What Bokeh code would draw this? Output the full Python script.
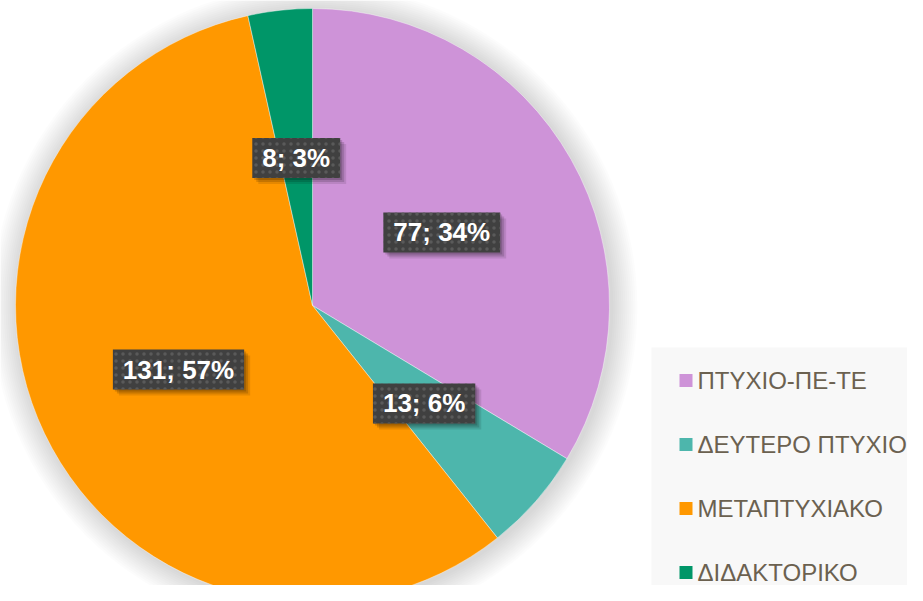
import numpy as np
from bokeh.plotting import figure
from bokeh.models import Range1d
from bokeh.core.properties import value
from bokeh.embed import file_html
from bokeh.resources import INLINE

# ---- data ----
categories = ["ΠΤΥΧΙΟ-ΠΕ-ΤΕ", "ΔΕΥΤΕΡΟ ΠΤΥΧΙΟ", "ΜΕΤΑΠΤΥΧΙΑΚΟ", "ΔΙΔΑΚΤΟΡΙΚΟ"]
counts = [77, 13, 131, 8]
colors = ["#CE93D8", "#4DB6AC", "#FF9800", "#009668"]

# ---- geometry (pixel coordinates, y flipped) ----
W, H = 907, 585
def py(y):
    return H - y

cx, cy = 312, py(305)
R = 297

total = float(sum(counts))
fracs = np.array(counts) / total
cum = np.concatenate([[0.0], np.cumsum(fracs)])
start_top = np.pi / 2
ends = start_top - cum[:-1] * 2 * np.pi
starts = start_top - cum[1:] * 2 * np.pi
mids = (starts + ends) / 2

p = figure(width=W, height=H, x_range=Range1d(0, W), y_range=Range1d(0, H),
           output_backend="svg", toolbar_location=None, min_border=0)
p.axis.visible = False
p.grid.visible = False
p.outline_line_color = None
p.background_fill_color = "white"
p.border_fill_color = "white"

# soft shadow around pie
for k in range(26, 0, -2):
    p.circle(x=[cx + 2], y=[cy - 2], radius=R + k, fill_color="black", fill_alpha=0.011,
             line_color=None)

p.wedge(x=cx, y=cy, radius=R, start_angle=list(starts), end_angle=list(ends),
        direction="anticlock", fill_color=colors, line_color="white", line_width=1, line_alpha=0.4)

# data labels
labels = [f"{c}; {int(round(f * 100))}%" for c, f in zip(counts, fracs)]
cw = {"0": .556, "1": .556, "2": .556, "3": .556, "4": .556, "5": .556, "6": .556,
      "7": .556, "8": .556, "9": .556, ";": .333, " ": .278, "%": .889}
fs = 26
lx = cx + 0.5 * R * np.cos(mids)
ly = cy + 0.5 * R * np.sin(mids)
bw = [fs * sum(cw.get(ch, .556) for ch in t) + 20 for t in labels]
bh = 40

for off, a in [(6, 0.10), (4, 0.14), (2, 0.16)]:
    p.rect(x=list(lx + off), y=list(ly - off), width=bw, height=bh, fill_color="black",
           fill_alpha=a, line_color=None)
p.rect(x=list(lx), y=list(ly), width=bw, height=bh, fill_color="#404040", line_color=None,
       hatch_pattern="dot", hatch_color="#5a5a5a", hatch_scale=7, hatch_weight=2)
p.text(x=list(lx), y=list(ly), text=labels, text_align="center", text_baseline="middle",
       text_font=value("Liberation Sans"), text_font_style="bold", text_font_size=f"{fs}px",
       text_color="white")

# legend (manual)
leg_left, leg_top = 651, 347
p.quad(left=[leg_left], right=[W], top=[py(leg_top)], bottom=[0],
       fill_color="#f8f8f8", line_color=None)
item_y = [py(380 + i * 64) for i in range(len(categories))]
p.rect(x=[685.5] * len(categories), y=item_y, width=13, height=13, fill_color=colors, line_color=None)
p.text(x=[697] * len(categories), y=item_y, text=categories, text_align="left",
       text_baseline="middle", text_font=value("Liberation Sans"), text_font_size="24px",
       text_color="#6b6150")

open("out.html", "w").write(file_html(p, INLINE))
